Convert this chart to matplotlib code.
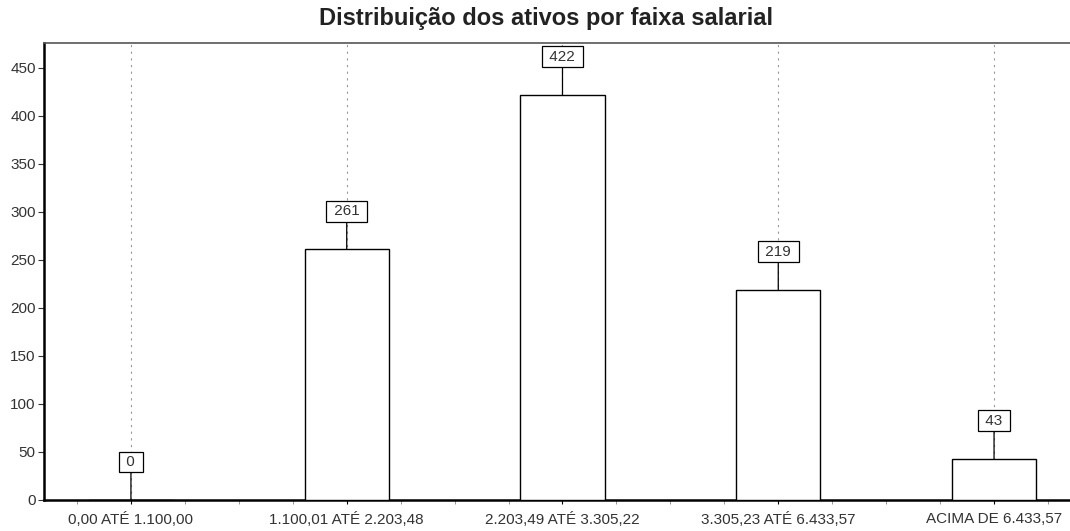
import numpy as np
import matplotlib.pyplot as plt
from matplotlib.ticker import MultipleLocator

plt.rcParams['font.family'] = ['Liberation Sans', 'DejaVu Sans']

# data
faixas = ["0,00 ATÉ 1.100,00", "1.100,01 ATÉ 2.203,48", "2.203,49 ATÉ 3.305,22",
          "3.305,23 ATÉ 6.433,57", "ACIMA DE 6.433,57"]
ativos = [0, 261, 422, 219, 43]

fig = plt.figure(figsize=(10.7, 5.31), dpi=100)
ax = fig.add_axes([0.0411, 0.0584, 0.9589, 0.8606])

x = np.arange(len(faixas))
ax.bar(x, ativos, width=0.39, color='white', edgecolor='black', linewidth=1, zorder=3)

# dashed vertical grid at each category
for xi in x:
    ax.axvline(xi, color='#999999', linestyle=(0, (2, 4)), linewidth=0.8, zorder=1)

# value labels in boxes, joined to bars by a line
for xi, v in zip(x, ativos):
    ax.annotate(" " + str(v) + " ", xy=(xi, v), xytext=(0, 38), textcoords='offset pixels',
                ha='center', va='center', fontsize=11, color='#333333',
                bbox=dict(boxstyle='square,pad=0.22', fc='white', ec='black', lw=0.9),
                arrowprops=dict(arrowstyle='-', color='black', lw=0.9,
                                shrinkA=0, shrinkB=0), zorder=4)

ax.set_xlim(-0.403, 4.352)
ax.set_ylim(0, 476)
ax.set_xticks(x)
ax.set_xticklabels(faixas, fontsize=11, color='#333333')
ax.xaxis.set_minor_locator(MultipleLocator(0.25))
ax.yaxis.set_major_locator(MultipleLocator(50))
ax.tick_params(axis='y', labelsize=11, colors='#333333', length=4, pad=2)
ax.tick_params(axis='x', which='both', length=3, direction='out', pad=6)
ax.tick_params(axis='x', which='minor', colors='#888888')

ax.spines['right'].set_visible(False)
ax.spines['left'].set_linewidth(1.8)
ax.spines['bottom'].set_linewidth(1.8)
ax.spines['top'].set_linewidth(1.2)
ax.spines['top'].set_color('#555555')

fig.text(0.51, 0.966, "Distribuição dos ativos por faixa salarial", ha='center', va='center',
         fontsize=17, fontweight='bold', color='#222222')

fig.savefig("out.png", dpi=100)
